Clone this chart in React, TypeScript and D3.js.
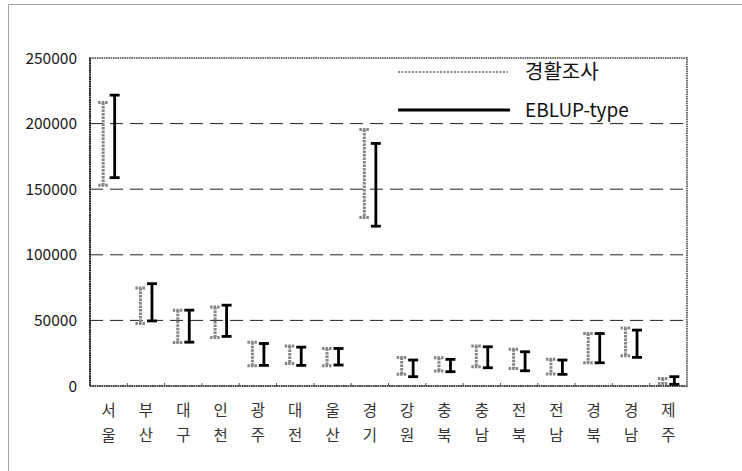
import * as React from "react";
import * as d3 from "d3";

const categories = ["서울", "부산", "대구", "인천", "광주", "대전", "울산", "경기", "강원", "충북", "충남", "전북", "전남", "경북", "경남", "제주"];

// 경활조사 interval
const surveyLow = [153000, 47600, 33200, 37000, 15400, 17200, 15400, 128400, 8900, 11400, 14700, 13400, 9100, 17700, 23000, 2000];
const surveyHigh = [216000, 74700, 57800, 60300, 33400, 30400, 28600, 195500, 21800, 21500, 30400, 28100, 20300, 40000, 44300, 5800];

// EBLUP-type interval
const eblupLow = [158800, 49600, 33400, 37800, 15700, 15700, 16000, 121800, 7100, 10900, 13900, 11600, 8900, 17700, 21800, 1300];
const eblupHigh = [221700, 78000, 57800, 61600, 32400, 29600, 28600, 184900, 19800, 20300, 29900, 26100, 19800, 40000, 42600, 7100];

const yTicks = [0, 50000, 100000, 150000, 200000, 250000];
const gridTicks = [50000, 100000, 150000, 200000];

const W = 742;
const H = 471;
const plot = { left: 90, right: 687, top: 58, bottom: 386 };
const font = "'Noto Sans CJK KR', 'Noto Sans', sans-serif";

function ErrorBar({ x, y1, y2, color, width, dash }) {
  const cap = 5;
  return (
    <g stroke={color} strokeWidth={width} strokeDasharray={dash}>
      <line x1={x} x2={x} y1={y1} y2={y2} />
      <line x1={x - cap} x2={x + cap} y1={y1} y2={y1} />
      <line x1={x - cap} x2={x + cap} y1={y2} y2={y2} />
    </g>
  );
}

export default function App() {
  const xScale = d3.scaleBand().domain(categories).range([plot.left, plot.right]);
  const yScale = d3.scaleLinear().domain([0, 250000]).range([plot.bottom, plot.top]);
  const bw = xScale.bandwidth();
  const cx = (c: string) => (xScale(c) as number) + bw / 2;

  return (
    <svg width={W} height={H} style={{ position: "absolute", left: 0, top: 0, background: "#fff" }} fontFamily={font}>
      {/* outer frame */}
      <path d={`M8.5,${H} V4.5 H${W}`} fill="none" stroke="#a0a0a0" strokeWidth={1} />

      {/* grid */}
      {gridTicks.map((t) => (
        <line key={t} x1={plot.left} x2={plot.right} y1={yScale(t)} y2={yScale(t)} stroke="#222" strokeWidth={1} strokeDasharray="13,7" />
      ))}

      {/* plot border */}
      <rect x={plot.left} y={plot.top} width={plot.right - plot.left} height={plot.bottom - plot.top} fill="none" stroke="#6a6a6a" strokeWidth={2} strokeDasharray="1.5,0.8" />
      <line x1={plot.left} x2={plot.left} y1={plot.top} y2={plot.bottom} stroke="#222" strokeWidth={2} strokeDasharray="1.5,0.8" />
      <line x1={plot.left} x2={plot.right} y1={plot.bottom} y2={plot.bottom} stroke="#444" strokeWidth={2} strokeDasharray="1.5,0.8" />

      {/* category ticks */}
      {categories.slice(1).map((c) => (
        <line key={c + "t"} x1={xScale(c)} x2={xScale(c)} y1={plot.bottom} y2={plot.bottom - 3} stroke="#555" strokeWidth={1} />
      ))}

      {/* y tick labels */}
      {yTicks.map((t) => (
        <text key={t} x={77} y={yScale(t)} dy="0.36em" textAnchor="end" fontSize={15.5} fill="#1a1a1a">
          {t}
        </text>
      ))}

      {/* category labels */}
      {categories.map((c) => (
        <text key={c} x={cx(c)} textAnchor="middle" fontSize={15.5} fill="#333">
          <tspan x={cx(c)} y={416}>{c[0]}</tspan>
          <tspan x={cx(c)} y={441}>{c[1]}</tspan>
        </text>
      ))}

      {/* error bars */}
      {categories.map((c, i) => (
        <g key={c + "b"}>
          <ErrorBar x={cx(c) - 5.5} y1={yScale(surveyHigh[i])} y2={yScale(surveyLow[i])} color="#858585" width={3} dash="2.5,1" />
          <ErrorBar x={cx(c) + 6} y1={yScale(eblupHigh[i])} y2={yScale(eblupLow[i])} color="#000" width={2.8} dash={undefined} />
        </g>
      ))}

      {/* legend */}
      <line x1={398} x2={508} y1={72} y2={72} stroke="#8a8a8a" strokeWidth={2} strokeDasharray="2,1.5" />
      <text x={525} y={72} dy="0.36em" fontSize={20} fill="#111">경활조사</text>
      <line x1={398} x2={510} y1={110} y2={110} stroke="#000" strokeWidth={3} />
      <text x={525} y={110} dy="0.36em" fontSize={19} fill="#111">EBLUP-type</text>
    </svg>
  );
}
